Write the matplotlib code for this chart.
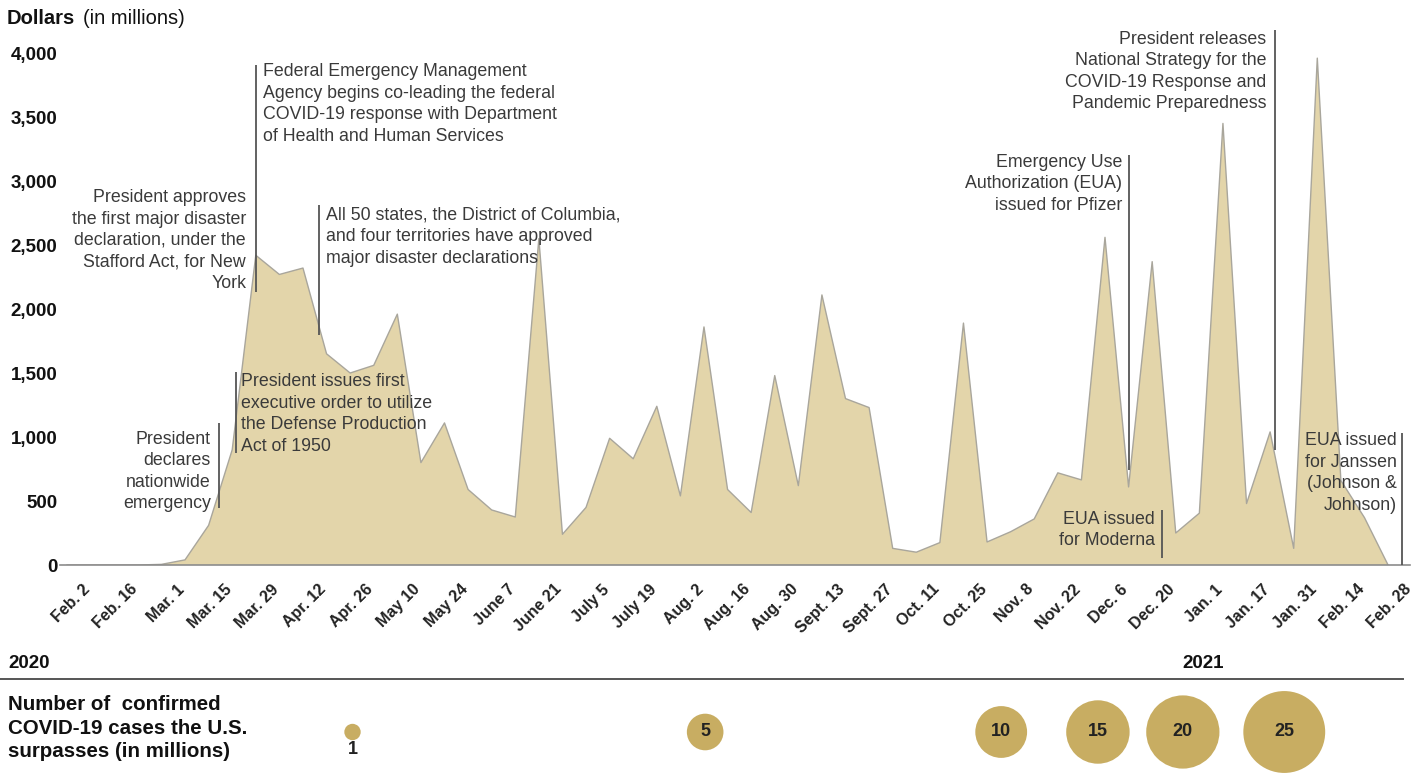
import matplotlib
matplotlib.use("Agg")
import matplotlib.pyplot as plt
from matplotlib.lines import Line2D
from matplotlib.transforms import ScaledTranslation
import numpy as np

plt.rcParams['font.family'] = ['Liberation Sans', 'DejaVu Sans']

# Biweekly tick labels (weeks 0, 2, 4, ... 56)
week_labels = ["Feb. 2", "Feb. 16", "Mar. 1", "Mar. 15", "Mar. 29", "Apr. 12", "Apr. 26",
               "May 10", "May 24", "June 7", "June 21", "July 5", "July 19", "Aug. 2",
               "Aug. 16", "Aug. 30", "Sept. 13", "Sept. 27", "Oct. 11", "Oct. 25", "Nov. 8",
               "Nov. 22", "Dec. 6", "Dec. 20", "Jan. 1", "Jan. 17", "Jan. 31", "Feb. 14",
               "Feb. 28"]

# Weekly obligations, dollars in millions
weekly_obligations = [0, 0, 0, 0, 5, 40, 310, 900, 2420, 2270, 2320, 1650, 1500, 1560,
                      1960, 800, 1110, 590, 430, 375, 2550, 240, 450, 990, 830, 1240, 540,
                      1860, 590, 410, 1480, 620, 2110, 1300, 1230, 130, 100, 175, 1890, 180,
                      260, 360, 720, 665, 2560, 610, 2370, 250, 405, 3450, 480, 1040, 130,
                      3960, 660, 370, 0]

y_ticks = [0, 500, 1000, 1500, 2000, 2500, 3000, 3500, 4000]

# Confirmed-case milestones (millions) and the week in which each was passed
case_milestones = [1, 5, 10, 15, 20, 25]
milestone_weeks = [12.1, 27.05, 39.6, 43.7, 47.3, 51.6]

FILL = "#E3D5AA"
EDGE = "#A9A69C"
BUBBLE = "#C8AD62"
TEXT = "#3a3a3a"
RULE = "#555555"

W, H = 1423, 781
fig = plt.figure(figsize=(W / 100, H / 100), dpi=100)

ax = fig.add_axes([60 / W, 1 - 565 / H, 1350 / W, 545 / H])
weeks = np.arange(len(weekly_obligations))
ax.fill_between(weeks, weekly_obligations, 0, facecolor=FILL, edgecolor="none", zorder=1)
ax.plot(weeks, weekly_obligations, color=EDGE, lw=1.0, zorder=2)
ax.set_xlim(-0.3, 56.93)
ax.set_ylim(0, 4258)

for side in ("left", "top", "right"):
    ax.spines[side].set_visible(False)
ax.spines["bottom"].set_color("#8c8c8c")
ax.spines["bottom"].set_linewidth(1.2)

ax.set_yticks(y_ticks)
ax.set_yticklabels([f"{v:,}" for v in y_ticks], fontsize=13.5, fontweight="bold", color="#111111")
ax.tick_params(axis="y", length=0, pad=2)

ax.set_xticks(weeks[::2])
ax.set_xticklabels(week_labels, rotation=45, ha="right", va="top", fontsize=11.5,
                   fontweight="bold", color="#222222")
ax.tick_params(axis="x", length=0, pad=12)
shift = ScaledTranslation(0.26, 0, fig.dpi_scale_trans)
for lab in ax.get_xticklabels():
    lab.set_transform(lab.get_transform() + shift)

# Event markers: (week, line bottom, line top)
event_lines = [
    (6.44, 445, 1110),
    (7.16, 875, 1508),
    (8.01, 2133, 3906),
    (10.68, 1797, 2812),
    (45.02, 742, 3203),
    (46.42, 55, 430),
    (51.21, 898, 4180),
    (56.59, 0, 1031),
]
for wk, lo, hi in event_lines:
    ax.plot([wk, wk], [lo, hi], color=RULE, lw=1.3, zorder=3, solid_capstyle="butt")

ann = dict(fontsize=12.8, color=TEXT, va="top", linespacing=1.34, zorder=4)
ax.text(6.1, 1047, "President\ndeclares\nnationwide\nemergency", ha="right", **ann)
ax.text(7.38, 1497, "President issues first\nexecutive order to utilize\nthe Defense Production\nAct of 1950",
        ha="left", **ann)
ax.text(7.59, 2937, "President approves\nthe first major disaster\ndeclaration, under the\nStafford Act, for New\nYork",
        ha="right", **ann)
ax.text(8.31, 3920, "Federal Emergency Management\nAgency begins co-leading the federal\nCOVID-19 response with Department\nof Health and Human Services",
        ha="left", **ann)
ax.text(10.98, 2797, "All 50 states, the District of Columbia,\nand four territories have approved\nmajor disaster declarations",
        ha="left", **ann)
ax.text(44.72, 3212, "Emergency Use\nAuthorization (EUA)\nissued for Pfizer", ha="right", **ann)
ax.text(46.12, 422, "EUA issued\nfor Moderna", ha="right", **ann)
ax.text(50.83, 4172, "President releases\nNational Strategy for the\nCOVID-19 Response and\nPandemic Preparedness",
        ha="right", **ann)
ax.text(56.38, 1037, "EUA issued\nfor Janssen\n(Johnson &\nJohnson)", ha="right", **ann)

# Axis title
fig.text(7 / W, 1 - 18 / H, "Dollars", fontsize=14.5, fontweight="bold", color="#111111", va="center")
fig.text(83 / W, 1 - 18 / H, "(in millions)", fontsize=14.5, color="#111111", va="center")

# Year labels and divider
fig.text(8 / W, 1 - 663 / H, "2020", fontsize=13.5, fontweight="bold", color="#111111", va="center")
fig.text(1203 / W, 1 - 663 / H, "2021", fontsize=13.5, fontweight="bold", color="#111111",
         va="center", ha="center")
fig.add_artist(Line2D([0, 1403 / W], [1 - 679 / H, 1 - 679 / H], color=RULE, lw=1.4))

# Case milestone bubbles
axb = fig.add_axes([60 / W, 0, 1350 / W, 141 / H])
axb.set_xlim(ax.get_xlim())
axb.set_ylim(141, 0)
axb.axis("off")
sizes = [139 * v for v in case_milestones]
axb.scatter(milestone_weeks, [92] * len(case_milestones), s=sizes, color=BUBBLE,
            edgecolor="none", zorder=2)
for wk, v in zip(milestone_weeks, case_milestones):
    if v == 1:
        axb.text(wk, 110, str(v), ha="center", va="center", fontsize=13, fontweight="bold",
                 color="#222222")
    else:
        axb.text(wk, 92, str(v), ha="center", va="center", fontsize=13, fontweight="bold",
                 color="#222222", zorder=3)

fig.text(8 / W, 1 - 695 / H, "Number of  confirmed\nCOVID-19 cases the U.S.\nsurpasses (in millions)",
         fontsize=14.8, fontweight="bold", color="#111111", va="top", linespacing=1.3)

fig.savefig("out.png", dpi=100)
